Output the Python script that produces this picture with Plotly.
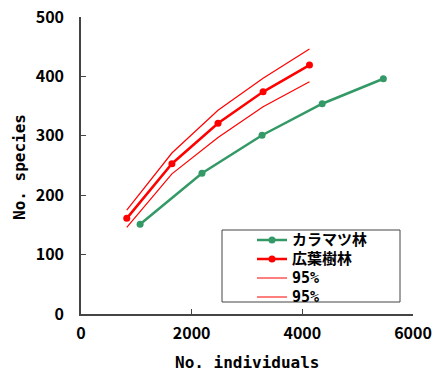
import plotly.graph_objects as go

# Data
kara_x = [1068, 2186, 3272, 4359, 5464]
kara_y = [151, 237, 301, 354, 396]
kouyou_x = [827, 1643, 2476, 3291, 4129]
kouyou_y = [161, 253, 321, 374, 419]
upper_y = [175, 271, 343, 397, 446]
lower_y = [146, 236, 297, 349, 391]

names = ["カラマツ林", "広葉樹林", "95%", "95%"]
x_ticks = [0, 2000, 4000, 6000]
y_ticks = [0, 100, 200, 300, 400, 500]
green = "#339966"
red = "#FF0000"


def lab(s):
    return '<span style="font-size:15px">' + s + '</span>'


fig = go.Figure()
fig.add_trace(go.Scatter(x=kara_x, y=kara_y, mode="lines+markers", name=lab(names[0]),
                         line=dict(color=green, width=2.5), marker=dict(size=7, color=green)))
fig.add_trace(go.Scatter(x=kouyou_x, y=kouyou_y, mode="lines+markers", name=lab(names[1]),
                         line=dict(color=red, width=2.5), marker=dict(size=7, color=red)))
fig.add_trace(go.Scatter(x=kouyou_x, y=upper_y, mode="lines", name=lab(names[2]),
                         line=dict(color=red, width=1.2)))
fig.add_trace(go.Scatter(x=kouyou_x, y=lower_y, mode="lines", name=lab(names[3]),
                         line=dict(color=red, width=1.2)))

L, T, W, H = 81, 17, 332, 297


def px(p):
    return (p - L) / W


def py(p):
    return (T + H - p) / H


tickfont = dict(family="Noto Sans CJK JP", size=16, color="black", weight="bold")
titlefont = dict(family="DejaVu Sans Mono", size=16, color="black", weight="bold")

fig.update_layout(
    width=435, height=374,
    margin=dict(l=L, r=435 - L - W, t=T, b=374 - T - H),
    plot_bgcolor="white", paper_bgcolor="white",
    showlegend=True,
    legend=dict(x=px(252), y=py(225.5), xanchor="left", yanchor="top",
                bgcolor="rgba(0,0,0,0)", borderwidth=0,
                font=dict(family="DejaVu Sans Mono, Noto Sans CJK JP", size=11.5,
                          color="black", weight="bold"),
                tracegroupgap=0),
    shapes=[dict(type="rect", xref="paper", yref="paper", x0=px(222), x1=px(400),
                 y0=py(230), y1=py(302), line=dict(color="#444444", width=1),
                 fillcolor="white", layer="above")],
    annotations=[
        dict(text="No. individuals", xref="paper", yref="paper", x=px(247), y=py(362),
             xanchor="center", yanchor="middle", showarrow=False, font=titlefont),
        dict(text="No. species", xref="paper", yref="paper", x=px(20), y=py(167),
             xanchor="center", yanchor="middle", showarrow=False, textangle=-90, font=titlefont),
    ],
    xaxis=dict(range=[0, 6000], tickvals=x_ticks, ticks="inside", ticklen=5, automargin=False,
               tickcolor="#444444", showline=True, linecolor="#444444", linewidth=1.5,
               showgrid=False, zeroline=False, tickfont=tickfont, ticklabelstandoff=4),
    yaxis=dict(range=[0, 500], tickvals=y_ticks, ticks="inside", ticklen=5, automargin=False,
               tickcolor="#444444", showline=True, linecolor="#444444", linewidth=1.5,
               showgrid=False, zeroline=False, tickfont=tickfont, ticklabelstandoff=12),
)

fig.write_html("out.html")
